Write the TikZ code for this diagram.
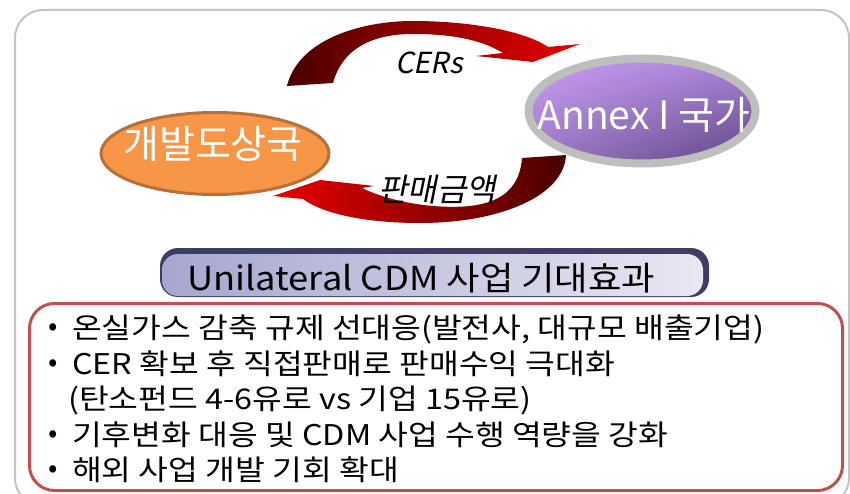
\documentclass[tikz,border=0pt]{standalone}
\usepackage{fontspec}
\setmainfont{Noto Sans CJK KR}
\newfontfamily\krslant[FakeSlant=0.2]{Noto Sans CJK KR}
\newfontfamily\krwide[FakeStretch=1.135]{Noto Sans CJK KR}
\newfontfamily\krban[FakeStretch=1.1]{Noto Sans CJK KR}
\usetikzlibrary{shapes.geometric,shadings}
\definecolor{framegray}{HTML}{C4C4C4}
\definecolor{arrdark}{HTML}{4A0000}
\definecolor{arrred}{HTML}{E80000}
\definecolor{devfill}{HTML}{F79646}
\definecolor{devline}{HTML}{B8703A}
\definecolor{annexline}{HTML}{BEBEBE}
\definecolor{purpA}{HTML}{CC9EF6}
\definecolor{purpB}{HTML}{A883D6}
\definecolor{purpC}{HTML}{9A7AC4}
\definecolor{purpD}{HTML}{5C4480}
\definecolor{bannerdark}{HTML}{3E3E64}
\definecolor{bannerL}{HTML}{A6A6D0}
\definecolor{bannerR}{HTML}{E8E8F3}
\definecolor{boxred}{HTML}{C0504D}
\tikzset{
  bigtext/.style={text=white, inner sep=0pt, font=\fontsize{39}{42}\selectfont},
  bullettext/.style={anchor=base west, inner sep=0pt, font=\krwide\fontsize{28.5}{30}\selectfont},
  bulletdot/.style={inner sep=0pt, font=\fontsize{27.5}{30}\selectfont},
}
\begin{document}
\begin{tikzpicture}[x=1pt,y=-1pt]
\useasboundingbox (0,0) rectangle (850,494);
\clip (0,0) rectangle (850,494);
\fill[white] (0,0) rectangle (850,494);
% outer frame
\node[draw=framegray, line width=2, rounded corners=28, minimum width=834, minimum height=496, anchor=north west, inner sep=0pt] (frame) at (14,9) {};
% top curved arrow (CERs)
\shade[left color=arrdark, right color=arrred]
  (287,86) .. controls (298,40) and (360,21) .. (413,21)
  .. controls (470,21) and (525,31) .. (548,47)
  -- (580,44) -- (533,62) -- (476,56) -- (503,53)
  .. controls (480,39) and (450,34) .. (413,34)
  .. controls (370,34) and (342,50) .. (333,83) -- cycle;
% bottom curved arrow
\shade[left color=arrred, right color=arrdark]
  (522,158) -- (566,155)
  .. controls (564,196) and (500,223) .. (420,223)
  .. controls (360,223) and (320,212) .. (303,199)
  -- (273,196) -- (320,180) -- (374,186) -- (362,188)
  .. controls (395,204) and (440,209) .. (470,206)
  .. controls (505,202) and (520,185) .. (522,158) -- cycle;
% developing country ellipse
\node[ellipse, draw=devline, fill=devfill, line width=3, minimum width=228, minimum height=82, inner sep=0pt] (dev) at (215,153.5) {};
\node[bigtext] (devtext) at (213,143.5) {개발도상국};
% Annex I ellipse
\shade[upper left=purpA, upper right=purpB, lower left=purpC, lower right=purpD] (642,111) ellipse [x radius=113, y radius=52];
\node[ellipse, draw=annexline, line width=8, minimum width=227, minimum height=105, inner sep=0pt] (annex) at (642,111) {};
\node[bigtext] (annextext) at (644,115) {Annex I 국가};
% arrow labels
\node[inner sep=0pt, font=\krslant\fontsize{29}{30}\selectfont] (cers) at (429,63) {CERs};
\node[inner sep=0pt, font=\krslant\fontsize{32}{34}\selectfont] (sales) at (437,190) {판매금액};
% banner
\fill[bannerdark, rounded corners=18] (160,248) rectangle (709,297);
\shade[left color=bannerL, right color=bannerR, rounded corners=16] (162,254) rectangle (703,296);
\node[anchor=west, inner sep=0pt, font=\krban\fontsize{33}{35}\selectfont] (banner) at (187,278) {Unilateral CDM 사업 기대효과};
% bullet box
\node[draw=boxred, line width=3, rounded corners=25, minimum width=813, minimum height=187, anchor=north west, inner sep=0pt] (box) at (28,302) {};
\node[bulletdot] (b1) at (53,330) {•};
\node[bullettext] (t1) at (72,338) {온실가스 감축 규제 선대응(발전사, 대규모 배출기업)};
\node[bulletdot] (b2) at (53,366) {•};
\node[bullettext] (t2) at (72,374) {CER 확보 후 직접판매로 판매수익 극대화};
\node[bullettext] (t3) at (68,409.5) {(탄소펀드 4-6유로 vs 기업 15유로)};
\node[bulletdot] (b4) at (53,437) {•};
\node[bullettext] (t4) at (72,445) {기후변화 대응 및 CDM 사업 수행 역량을 강화};
\node[bulletdot] (b5) at (53,472) {•};
\node[bullettext] (t5) at (72,480.5) {해외 사업 개발 기회 확대};
\end{tikzpicture}
\end{document}
